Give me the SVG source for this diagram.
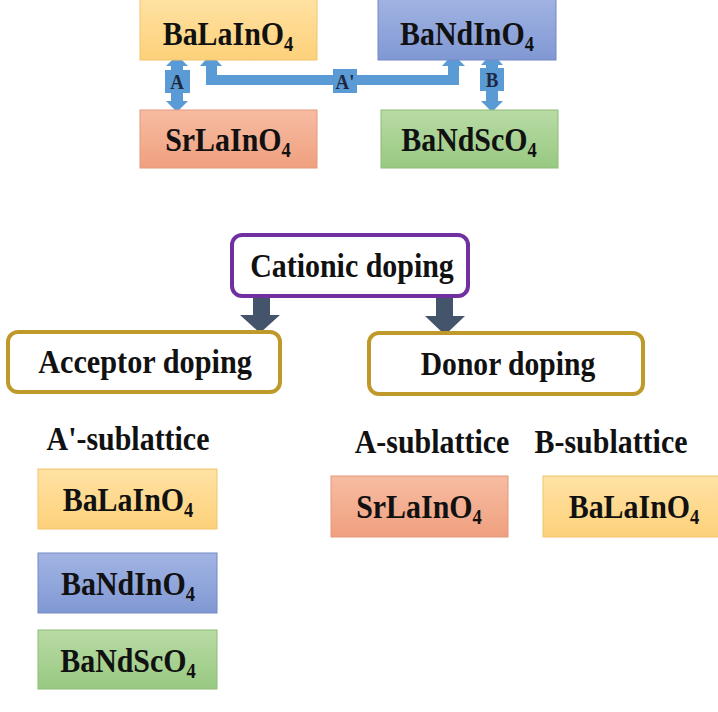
<svg xmlns="http://www.w3.org/2000/svg" width="718" height="712" viewBox="0 0 718 712">
<defs>
<linearGradient id="gY" x1="0" y1="0" x2="0" y2="1"><stop offset="0" stop-color="#FFE2A4"/><stop offset="1" stop-color="#FDD17A"/></linearGradient>
<linearGradient id="gB" x1="0" y1="0" x2="0" y2="1"><stop offset="0" stop-color="#A2B4E3"/><stop offset="1" stop-color="#8098D3"/></linearGradient>
<linearGradient id="gR" x1="0" y1="0" x2="0" y2="1"><stop offset="0" stop-color="#F7BCA3"/><stop offset="1" stop-color="#EFA07E"/></linearGradient>
<linearGradient id="gG" x1="0" y1="0" x2="0" y2="1"><stop offset="0" stop-color="#B9DBA5"/><stop offset="1" stop-color="#98C981"/></linearGradient>
</defs>
<style>
text{font-family:"Liberation Serif","DejaVu Serif",serif;font-weight:bold;fill:#111;text-anchor:middle}
.t{font-size:34px}
.sub{font-size:21px}
.lbl{font-size:21px;fill:#1c2740}
.fy{fill:url(#gY);stroke:#F2C46A;stroke-width:1}
.fb{fill:url(#gB);stroke:#7489C4;stroke-width:1}
.fr{fill:url(#gR);stroke:#E39878;stroke-width:1}
.fg{fill:url(#gG);stroke:#8CBC76;stroke-width:1}
.cat{fill:#fff;stroke:#7030A0;stroke-width:4}
.dop{fill:#fff;stroke:#BF9A2A;stroke-width:4}
.ba{fill:#5B9BD5}
.da{fill:#44546A}
</style>
<g id="connectors">
<path class="ba" d="M177,55 L188,66 L183,66 L183,101 L188,101 L177,112 L166,101 L171,101 L171,66 L166,66 Z"/>
<rect class="ba" x="165" y="70" width="25" height="23"/>
<path class="ba" d="M211,54 L222,66 L217,66 L217,75 L448,75 L448,66 L442,66 L453,54 L465,66 L459,66 L459,85 L206,85 L206,66 L200,66 Z"/>
<rect class="ba" x="333" y="69" width="24" height="24"/>
<path class="ba" d="M492,53 L503,65 L498,65 L498,101 L503,101 L492,112 L481,101 L486,101 L486,65 L481,65 Z"/>
<rect class="ba" x="480" y="68" width="24" height="23"/>
<text class="lbl" transform="translate(177,89) scale(0.9,1)">A</text>
<text class="lbl" transform="translate(345,89) scale(0.9,1)">A'</text>
<text class="lbl" transform="translate(492,87) scale(0.9,1)">B</text>
<path class="da" d="M253,297 L270,297 L270,315 L280,315 L260,333 L240,315 L253,315 Z"/>
<path class="da" d="M436,297 L453,297 L453,316 L465,316 L445,335 L425,316 L436,316 Z"/>
</g>
<g id="top-BaLaInO4"><rect class="fy" x="140" y="-4" width="177" height="64"/><text class="t" transform="translate(228,45) scale(0.88,1)">BaLaInO<tspan class="sub" dy="6">4</tspan></text></g>
<g id="top-BaNdInO4"><rect class="fb" x="378" y="-4" width="178" height="64"/><text class="t" transform="translate(467,45) scale(0.88,1)">BaNdInO<tspan class="sub" dy="6">4</tspan></text></g>
<g id="top-SrLaInO4"><rect class="fr" x="140" y="110" width="177" height="58"/><text class="t" transform="translate(228,151) scale(0.88,1)">SrLaInO<tspan class="sub" dy="6">4</tspan></text></g>
<g id="top-BaNdScO4"><rect class="fg" x="381" y="110" width="177" height="58"/><text class="t" transform="translate(469,151) scale(0.88,1)">BaNdScO<tspan class="sub" dy="6">4</tspan></text></g>
<g id="cationic"><rect class="cat" x="232" y="235" width="236" height="61" rx="10"/><text class="t" transform="translate(352,277) scale(0.88,1)">Cationic doping</text></g>
<g id="acceptor"><rect class="dop" x="8" y="332" width="272" height="60" rx="10"/><text class="t" transform="translate(145,373) scale(0.89,1)">Acceptor doping</text></g>
<g id="donor"><rect class="dop" x="369" y="333" width="274" height="61" rx="10"/><text class="t" transform="translate(508,375) scale(0.87,1)">Donor doping</text></g>
<g id="labels">
<text class="t" transform="translate(128,450) scale(0.88,1)">A'-sublattice</text>
<text class="t" transform="translate(432,453) scale(0.88,1)">A-sublattice</text>
<text class="t" transform="translate(611,453) scale(0.88,1)">B-sublattice</text>
</g>
<g id="acc-BaLaInO4"><rect class="fy" x="38" y="469" width="179" height="60"/><text class="t" transform="translate(128,511) scale(0.88,1)">BaLaInO<tspan class="sub" dy="6">4</tspan></text></g>
<g id="acc-BaNdInO4"><rect class="fb" x="38" y="553" width="179" height="60"/><text class="t" transform="translate(128,595) scale(0.88,1)">BaNdInO<tspan class="sub" dy="6">4</tspan></text></g>
<g id="acc-BaNdScO4"><rect class="fg" x="38" y="630" width="179" height="59"/><text class="t" transform="translate(128,672) scale(0.88,1)">BaNdScO<tspan class="sub" dy="6">4</tspan></text></g>
<g id="don-SrLaInO4"><rect class="fr" x="331" y="476" width="177" height="61"/><text class="t" transform="translate(419,518) scale(0.88,1)">SrLaInO<tspan class="sub" dy="6">4</tspan></text></g>
<g id="don-BaLaInO4"><rect class="fy" x="543" y="476" width="182" height="61"/><text class="t" transform="translate(634,518) scale(0.88,1)">BaLaInO<tspan class="sub" dy="6">4</tspan></text></g>
</svg>
